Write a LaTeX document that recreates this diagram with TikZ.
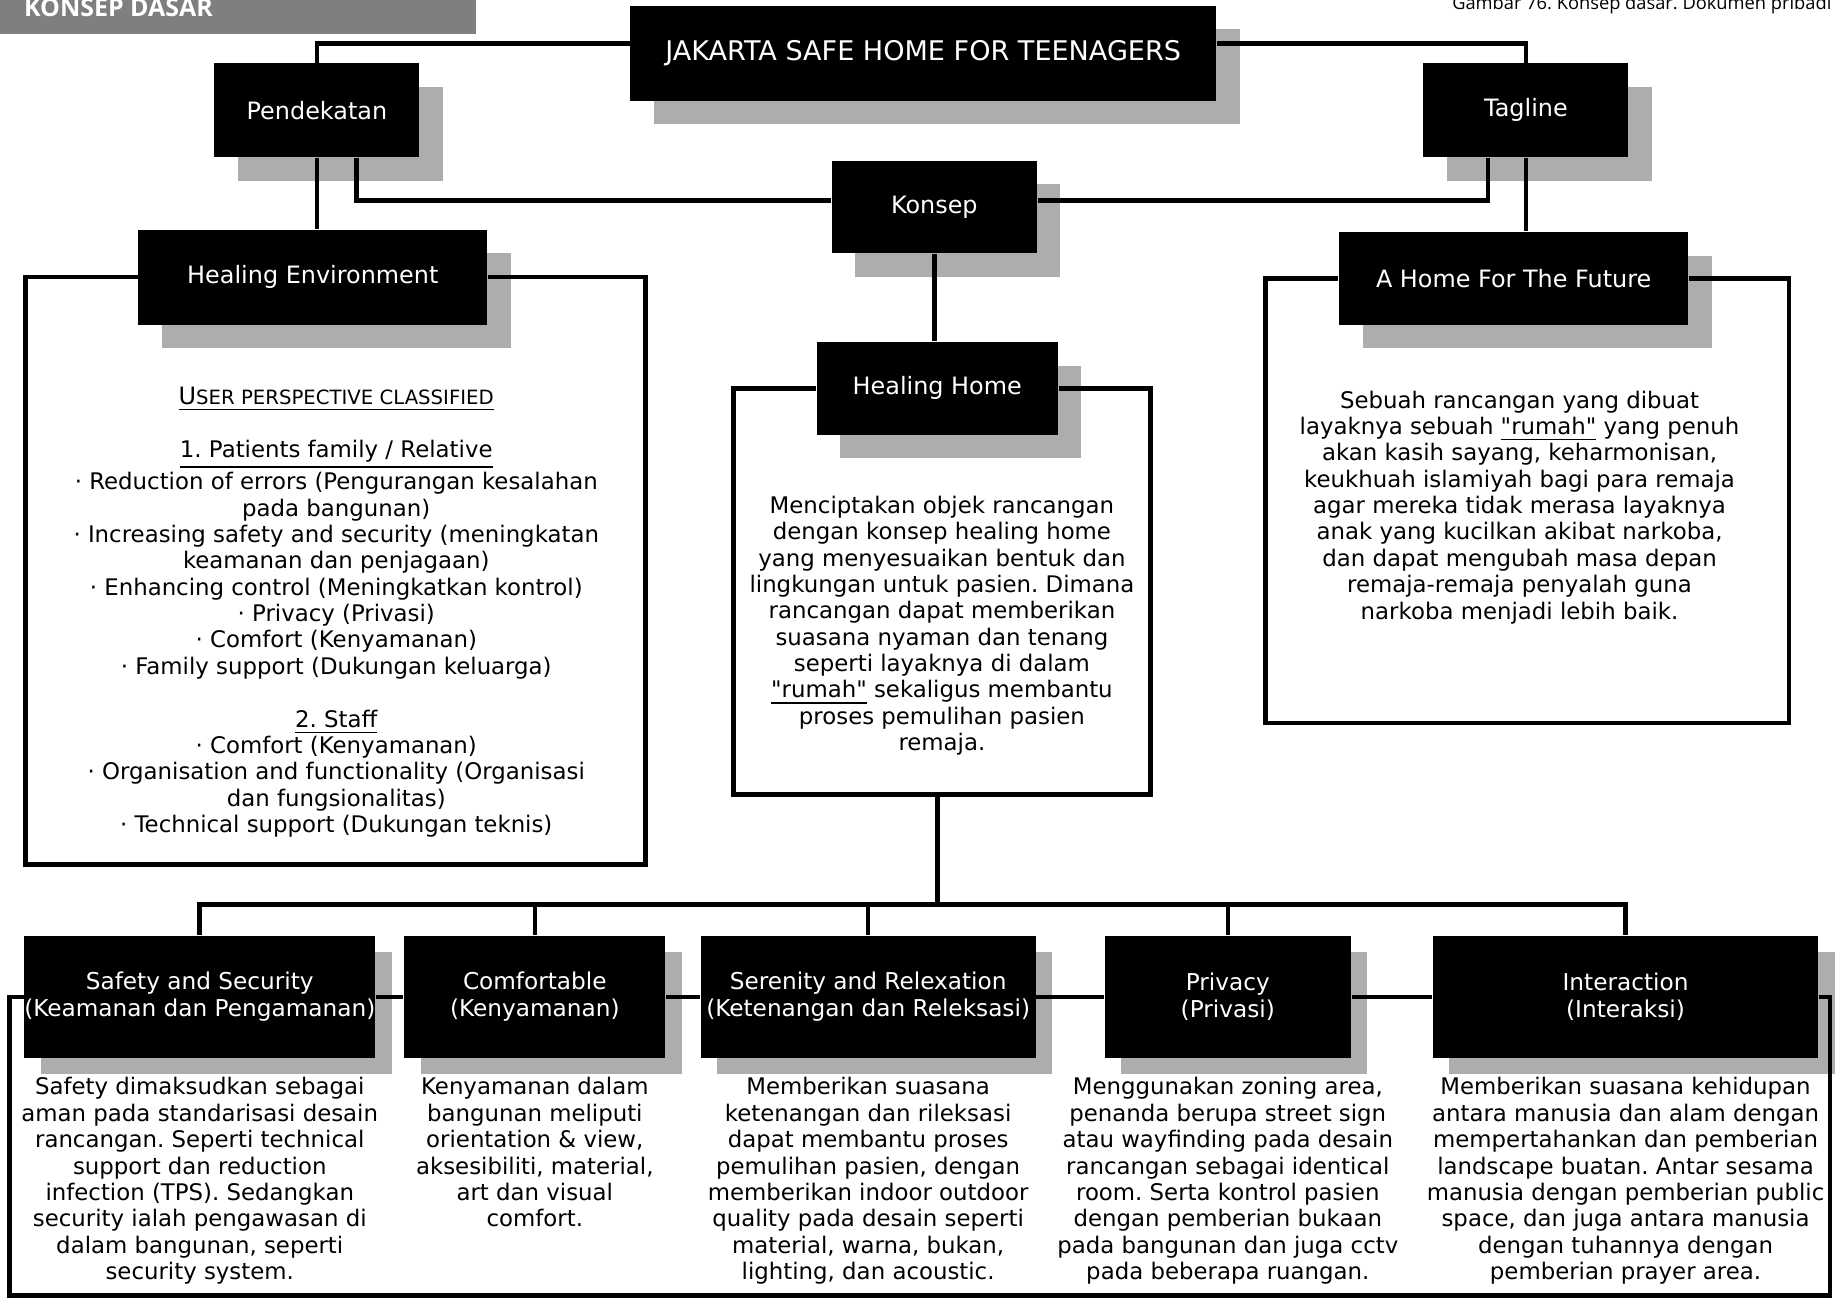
\documentclass[tikz,border=0pt]{standalone}
\usepackage{fontspec}
\setmainfont{DejaVu Sans}
\newfontfamily\capfont{Open Sans}
\newfontfamily\qfont{DejaVu Sans}
\usetikzlibrary{positioning,shadows}
\definecolor{shadowgray}{HTML}{ADADAD}
\definecolor{headgray}{HTML}{7F7F7F}
\frenchspacing
\newcommand{\upx}{0.11716mm}
\newcommand{\bul}{·\ }
\newcommand{\rumah}{\underline{{\qfont"}rumah{\qfont"}}}
\tikzset{
  boxbase/.style={fill=black, text=white, align=center, inner sep=0pt},
  boxsize/.style 2 args={minimum width=#1*\upx, minimum height=#2*\upx},
  topbox/.style={boxbase, font=\fontsize{6.8}{8}\selectfont,
    drop shadow={shadow xshift=6.7pt, shadow yshift=-6.7pt, opacity=1, fill=shadowgray}},
  subbox/.style={boxbase, font=\fontsize{6.6}{7.7}\selectfont,
    drop shadow={shadow xshift=4.7pt, shadow yshift=-4.5pt, opacity=1, fill=shadowgray}},
  txt/.style={align=center, inner sep=0pt, font=\fontsize{6.5}{7.5}\selectfont},
  conn/.style={line width=1.3pt},
}
\begin{document}
\begin{tikzpicture}[x=\upx, y=-\upx]
\useasboundingbox (0,0) rectangle (1568,1108.8);

% header and caption
\fill[headgray] (0,0) rectangle (406,29);
\node[anchor=base west, inner sep=0pt, text=white, font=\capfont\bfseries\fontsize{7.1}{8}\selectfont] (hdr) at (20,14.2) {KONSEP DASAR};
\node[anchor=base west, inner sep=0pt, font=\capfont\fontsize{5.2}{6}\selectfont] (cap) at (1239,8) {Gambar 76. Konsep dasar. Dokumen pribadi};

% upper boxes
\node[topbox, boxsize={500}{81}] (jak) at (788,45.5) {\fontsize{7.7}{9}\selectfont JAKARTA SAFE HOME FOR TEENAGERS};
\node[topbox, boxsize={175}{80}] (pend) at (270.5,94) {Pendekatan};
\node[topbox, boxsize={175}{80}] (tag) at (1302.5,94) {Tagline};
\node[topbox, boxsize={175}{79}] (kon) at (797.5,176.5) {Konsep};
\node[topbox, boxsize={298}{81}] (he) at (267,236.5) {Healing Environment};
\node[topbox, boxsize={298}{79}] (home) at (1292,237.5) {A Home For The Future};
\node[topbox, boxsize={206}{79}] (hh) at (800,331.5) {Healing Home};

% lower boxes
\foreach \n/\x/\w/\t in {safe/170.5/299/{Safety and Security\\(Keamanan dan Pengamanan)},
    comf/456.5/223/{Comfortable\\(Kenyamanan)},
    seren/741/286/{Serenity and Relexation\\(Ketenangan dan Releksasi)},
    priv/1048/210/{Privacy\\(Privasi)},
    inter/1387.5/329/{Interaction\\(Interaksi)}}{
  \node[subbox, boxsize={\w}{104}] (\n) at (\x,851) {\t};
}

% connectors
\draw[conn] ([yshift=2.8pt]jak.west) -| (pend.north);
\draw[conn] ([yshift=2.8pt]jak.east) -| (tag.north);
\draw[conn] (pend.south) -- (pend.south |- he.north);
\draw[conn] ([xshift=11.2pt]pend.south) |- ([yshift=1.8pt]kon.west);
\draw[conn] ([xshift=-10.8pt]tag.south) |- ([yshift=1.8pt]kon.east);
\draw[conn] (tag.south) -- (tag.south |- home.north);
\draw[conn] (kon.south) -- (kon.south |- hh.north);

% frames
\coordinate (he-se) at (551,738);
\coordinate (he-sw) at (22,738);
\draw[conn] (he.east) -| (he-se) -- (he-sw) |- (he.west);
\coordinate (hh-se) at (982,678);
\coordinate (hh-sw) at (626,678);
\draw[conn] (hh.east) -| (hh-se) -- (hh-sw) |- (hh.west);
\coordinate (home-se) at (1527,617);
\coordinate (home-sw) at (1080,617);
\draw[conn] (home.east) -| (home-se) -- (home-sw) |- (home.west);
\coordinate (bot-sw) at (8,1106);
\coordinate (bot-se) at (1562,1106);
\draw[conn] (safe.west) -| (bot-sw) -- (bot-se) |- (inter.east);
\foreach \a/\b in {safe/comf, comf/seren, seren/priv, priv/inter}
  \draw[conn] (\a.east) -- (\b.west);

% bus to lower boxes
\coordinate (bus) at (800,772);
\draw[conn] (hh.south |- hh-se) -- (bus);
\foreach \n in {safe,comf,seren,priv,inter}
  \draw[conn] (bus) -| (\n.north);

% texts
\node[txt] (hetxt) at (287,522.5) {\underline{{\fontsize{6.8}{7.5}\selectfont U}{\fontsize{5.6}{7.5}\selectfont SER PERSPECTIVE CLASSIFIED}}\\[7.5pt]
  \underline{1. Patients family / Relative}\\
  \bul Reduction of errors (Pengurangan kesalahan\\
  pada bangunan)\\
  \bul Increasing safety and security (meningkatan\\
  keamanan dan penjagaan)\\
  \bul Enhancing control (Meningkatkan kontrol)\\
  \bul Privacy (Privasi)\\
  \bul Comfort (Kenyamanan)\\
  \bul Family support (Dukungan keluarga)\\[7.5pt]
  \underline{2. Staff}\\
  \bul Comfort (Kenyamanan)\\
  \bul Organisation and functionality (Organisasi\\
  dan fungsionalitas)\\
  \bul Technical support (Dukungan teknis)};
\node[txt] (hhtxt) at (804,534) {Menciptakan objek rancangan\\
  dengan konsep healing home\\
  yang menyesuaikan bentuk dan\\
  lingkungan untuk pasien. Dimana\\
  rancangan dapat memberikan\\
  suasana nyaman dan tenang\\
  seperti layaknya di dalam\\
  \rumah{} sekaligus membantu\\
  proses pemulihan pasien\\
  remaja.};
\node[txt] (hometxt) at (1297,433) {Sebuah rancangan yang dibuat\\
  layaknya sebuah \rumah{} yang penuh\\
  akan kasih sayang, keharmonisan,\\
  keukhuah islamiyah bagi para remaja\\
  agar mereka tidak merasa layaknya\\
  anak yang kucilkan akibat narkoba,\\
  dan dapat mengubah masa depan\\
  remaja-remaja penyalah guna\\
  narkoba menjadi lebih baik.};
\node[txt, below=5.2pt of safe] (safetxt) {Safety dimaksudkan sebagai\\
  aman pada standarisasi desain\\
  rancangan. Seperti technical\\
  support dan reduction\\
  infection (TPS). Sedangkan\\
  security ialah pengawasan di\\
  dalam bangunan, seperti\\
  security system.};
\node[txt, below=5.2pt of comf] (comftxt) {Kenyamanan dalam\\
  bangunan meliputi\\
  orientation \& view,\\
  aksesibiliti, material,\\
  art dan visual\\
  comfort.};
\node[txt, below=5.2pt of seren] (serentxt) {Memberikan suasana\\
  ketenangan dan rileksasi\\
  dapat membantu proses\\
  pemulihan pasien, dengan\\
  memberikan indoor outdoor\\
  quality pada desain seperti\\
  material, warna, bukan,\\
  lighting, dan acoustic.};
\node[txt, below=5.2pt of priv] (privtxt) {Menggunakan zoning area,\\
  penanda berupa street sign\\
  atau wayfinding pada desain\\
  rancangan sebagai identical\\
  room. Serta kontrol pasien\\
  dengan pemberian bukaan\\
  pada bangunan dan juga cctv\\
  pada beberapa ruangan.};
\node[txt, below=5.2pt of inter] (intertxt) {Memberikan suasana kehidupan\\
  antara manusia dan alam dengan\\
  mempertahankan dan pemberian\\
  landscape buatan. Antar sesama\\
  manusia dengan pemberian public\\
  space, dan juga antara manusia\\
  dengan tuhannya dengan\\
  pemberian prayer area.};
\end{tikzpicture}
\end{document}
